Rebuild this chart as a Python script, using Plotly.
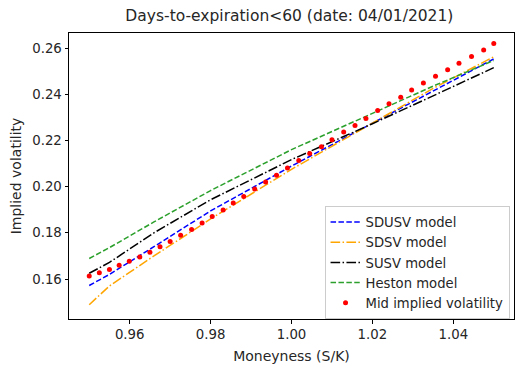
import plotly.graph_objects as go

# model curves
model_moneyness = [0.95, 0.955, 0.966, 0.98, 1.00, 1.02, 1.035, 1.05]
sdusv_vol = [0.1572, 0.1620, 0.1740, 0.1895, 0.2089, 0.2275, 0.2411, 0.2553]
sdsv_vol = [0.1489, 0.1570, 0.1700, 0.1860, 0.2075, 0.2273, 0.2425, 0.2562]
susv_vol = [0.1625, 0.1672, 0.1800, 0.1943, 0.2117, 0.2272, 0.2393, 0.2515]
heston_vol = [0.1689, 0.1736, 0.1847, 0.1983, 0.2160, 0.2319, 0.2435, 0.2546]

# market mid implied volatilities
mid_moneyness = [
    0.9500, 0.9525, 0.9550, 0.9574, 0.9599, 0.9625, 0.9650, 0.9675, 0.9700, 0.9726,
    0.9753, 0.9779, 0.9804, 0.9831, 0.9856, 0.9882, 0.9909, 0.9936, 0.9963, 0.9990,
    1.0018, 1.0045, 1.0074, 1.0100, 1.0129, 1.0157, 1.0184, 1.0213, 1.0241, 1.0270,
    1.0297, 1.0326, 1.0356, 1.0386, 1.0414, 1.0445, 1.0475, 1.0500,
]
mid_vol = [
    0.1613, 0.1627, 0.1641, 0.1660, 0.1677, 0.1695, 0.1716, 0.1740, 0.1762, 0.1789,
    0.1814, 0.1843, 0.1871, 0.1899, 0.1929, 0.1957, 0.1990, 0.2020, 0.2049, 0.2081,
    0.2113, 0.2143, 0.2173, 0.2203, 0.2237, 0.2265, 0.2295, 0.2329, 0.2359, 0.2387,
    0.2418, 0.2449, 0.2478, 0.2506, 0.2534, 0.2563, 0.2591, 0.2620,
]

x_ticks = [0.96, 0.98, 1.00, 1.02, 1.04]
y_ticks = [0.16, 0.18, 0.20, 0.22, 0.24, 0.26]

DASHED = "5.5px,2.4px"
DASHDOT = "9.6px,2.4px,1.5px,2.4px"

fig = go.Figure()
fig.add_trace(go.Scatter(x=model_moneyness, y=sdusv_vol, mode="lines", name="SDUSV model",
                         line={"color": "#0000ff", "width": 1.5, "dash": DASHED}))
fig.add_trace(go.Scatter(x=model_moneyness, y=sdsv_vol, mode="lines", name="SDSV model",
                         line={"color": "#ffa500", "width": 1.5, "dash": DASHDOT}))
fig.add_trace(go.Scatter(x=model_moneyness, y=susv_vol, mode="lines", name="SUSV model",
                         line={"color": "#000000", "width": 1.5, "dash": DASHDOT}))
fig.add_trace(go.Scatter(x=model_moneyness, y=heston_vol, mode="lines", name="Heston model",
                         line={"color": "#2ca02c", "width": 1.5, "dash": DASHED}))
fig.add_trace(go.Scatter(x=mid_moneyness, y=mid_vol, mode="markers", name="Mid implied volatility",
                         marker={"color": "#ff0000", "size": 5}))

axis_style = {
    "showline": True,
    "mirror": True,
    "linecolor": "#000000",
    "linewidth": 1,
    "ticks": "outside",
    "ticklen": 3.5,
    "tickwidth": 0.8,
    "tickcolor": "#000000",
    "showgrid": False,
    "zeroline": False,
    "tickfont": {"size": 13.3, "color": "#262626"},
}

# the page body adds an 8px margin, so the figure is 8px smaller each way
fig.update_layout(
    width=518,
    height=365,
    paper_bgcolor="#ffffff",
    plot_bgcolor="#ffffff",
    font={"family": "DejaVu Sans", "color": "#262626", "size": 13},
    title={"text": "Days-to-expiration<60 (date: 04/01/2021)", "x": 0.5432, "xanchor": "center",
           "y": 0.993, "yanchor": "top", "font": {"size": 15.5}},
    margin={"l": 61, "r": 12, "t": 25, "b": 50},
    xaxis={**axis_style, "range": [0.945, 1.055], "tickvals": x_ticks, "tickformat": ".2f",
           "automargin": True,
           "title": {"text": "Moneyness (S/K)", "standoff": 9, "font": {"size": 14}}},
    yaxis={**axis_style, "range": [0.1427, 0.2665], "tickvals": y_ticks, "tickformat": ".2f",
           "automargin": False,
           "title": {"text": "Implied volatility", "font": {"size": 14}}},
    legend={
        "x": 0.99, "xanchor": "right", "y": 0.0, "yanchor": "bottom",
        "bgcolor": "rgba(255,255,255,0.8)", "bordercolor": "#cccccc", "borderwidth": 1,
        "font": {"size": 13.2},
        "itemwidth": 30,
        "tracegroupgap": 0,
    },
    showlegend=True,
)

fig.write_html("out.html")
